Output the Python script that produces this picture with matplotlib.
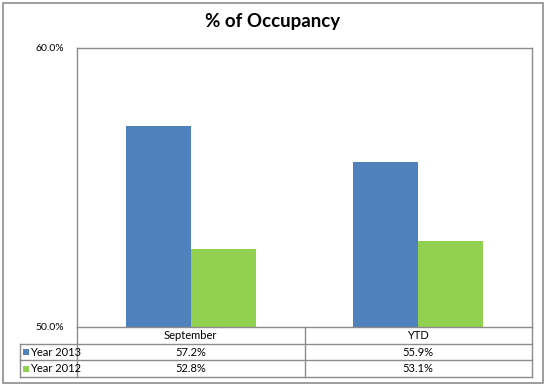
import matplotlib
matplotlib.use("Agg")
import matplotlib.pyplot as plt
from matplotlib.patches import Rectangle
from matplotlib.lines import Line2D
import numpy as np

# --- data ---
categories = ["September", "YTD"]
series_names = ["Year 2013", "Year 2012"]
year_2013 = [57.2, 55.9]
year_2012 = [52.8, 53.1]
y_ticks = [50.0, 60.0]

colors = ["#4F81BD", "#92D050"]
edge = "#8C8C8C"

plt.rcParams["font.family"] = ["Lato", "DejaVu Sans"]

W, H = 546, 386
fig = plt.figure(figsize=(W / 100, H / 100), dpi=100)

# plot area in pixels
left, right, top, bottom = 77, 532, 48, 327
ax = fig.add_axes([left / W, 1 - bottom / H, (right - left) / W, (bottom - top) / H])

n = len(categories)
x = np.arange(n) + 0.5
bw = 0.285
for vals, c, off in [(year_2013, colors[0], -bw / 2), (year_2012, colors[1], bw / 2)]:
    ax.bar(x + off, vals, width=bw, color=c, edgecolor="none")

ax.set_xlim(0, n)
ax.set_ylim(y_ticks[0], y_ticks[-1])
ax.set_yticks(y_ticks)
ax.set_yticklabels([f"{v:.1f}%" for v in y_ticks], fontsize=7.5)
ax.tick_params(axis="y", length=0, pad=9)
ax.tick_params(axis="x", length=0, labelbottom=False)
for s in ax.spines.values():
    s.set_color(edge)
    s.set_linewidth(1)
ax.spines["bottom"].set_visible(False)

# --- data table under the plot ---
row_px = [327, 344, 360, 377]
label_left = 20
tr = ax.transAxes
def ay(py):
    return (bottom - py) / (bottom - top)
def axx(px):
    return (px - left) / (right - left)

kw = dict(transform=tr, clip_on=False, color=edge, linewidth=1)
ax.add_line(Line2D([0, 1], [ay(row_px[0])] * 2, **kw))
for py in row_px[1:]:
    ax.add_line(Line2D([axx(label_left), 1], [ay(py)] * 2, **kw))
for xv in [0, 0.5, 1]:
    ax.add_line(Line2D([xv, xv], [ay(row_px[0]), ay(row_px[-1])], **kw))
ax.add_line(Line2D([axx(label_left)] * 2, [ay(row_px[1]), ay(row_px[-1])], **kw))

xc = (np.arange(n) + 0.5) / n
for i, cat in enumerate(categories):
    ax.text(xc[i], ay((row_px[0] + row_px[1]) / 2), cat, transform=tr,
            ha="center", va="center", fontsize=8)
for r, (name, vals, c) in enumerate(zip(series_names, [year_2013, year_2012], colors)):
    yc = ay((row_px[r + 1] + row_px[r + 2]) / 2)
    sq = 6 / (bottom - top)
    ax.add_patch(Rectangle((axx(label_left + 3), yc - sq / 2), 6 / (right - left), sq,
                           transform=tr, clip_on=False, facecolor=c, edgecolor="none"))
    ax.text(axx(label_left + 10.5), yc, name, transform=tr, ha="left", va="center", fontsize=8)
    for i, v in enumerate(vals):
        ax.text(xc[i], yc, f"{v:.1f}%", transform=tr, ha="center", va="center", fontsize=8)

# title
fig.text(273 / W, 1 - 22 / H, "% of Occupancy", ha="center", va="center",
         fontsize=13.5, fontweight="bold")

# chart border
fig.add_artist(Rectangle((3 / W, 3 / H), (W - 6) / W, (H - 6) / H, transform=fig.transFigure,
                         facecolor="none", edgecolor=edge, linewidth=1.2))

fig.savefig("out.png", dpi=100)
